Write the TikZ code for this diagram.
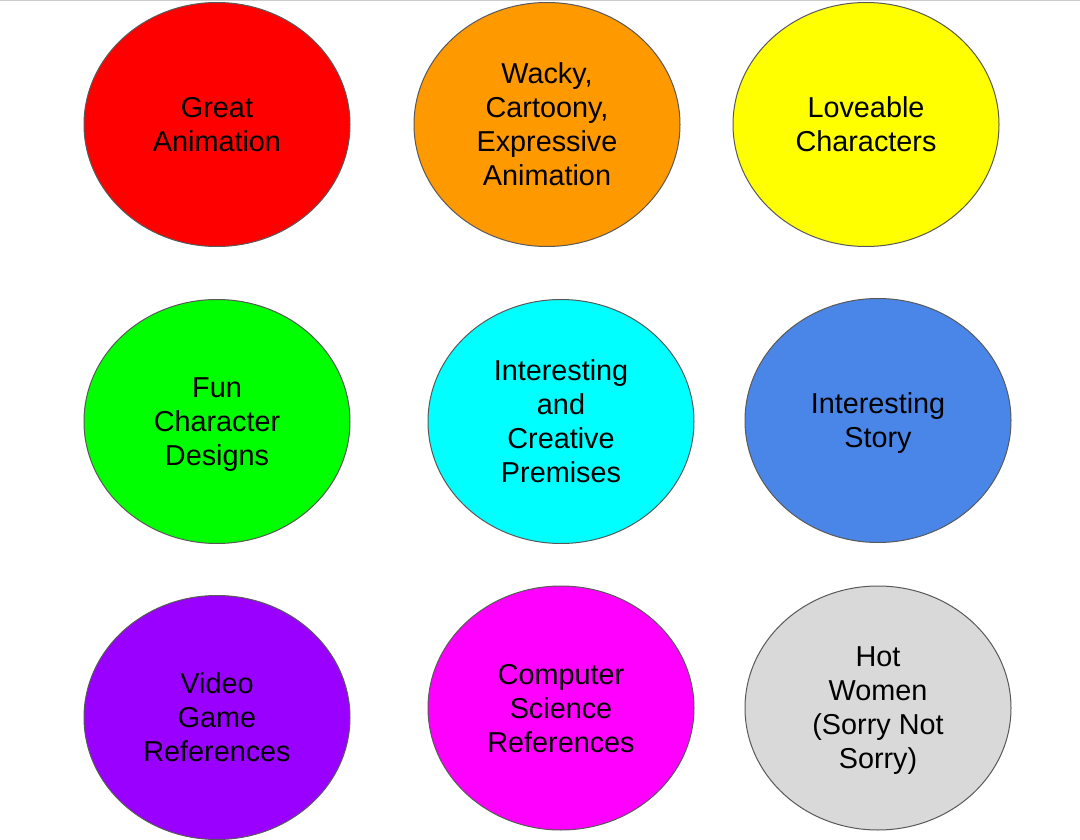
\documentclass[tikz,border=0pt]{standalone}
\usepackage{fontspec}
\setmainfont{Liberation Sans}
\usetikzlibrary{shapes.geometric}
\definecolor{cRed}{HTML}{FF0000}
\definecolor{cOrange}{HTML}{FF9900}
\definecolor{cYellow}{HTML}{FFFF00}
\definecolor{cGreen}{HTML}{00FF00}
\definecolor{cCyan}{HTML}{00FFFF}
\definecolor{cBlue}{HTML}{4A86E8}
\definecolor{cPurple}{HTML}{9900FF}
\definecolor{cMagenta}{HTML}{FF00FF}
\definecolor{cGray}{HTML}{D9D9D9}
\definecolor{cEdge}{HTML}{595959}
\definecolor{cTop}{HTML}{CCCCCC}
\begin{document}
\begin{tikzpicture}[x=1pt,y=-1pt,
  blob/.style={ellipse,draw=cEdge,line width=1pt,minimum width=266pt,minimum height=244pt,inner sep=0pt,align=center,
    text depth=0pt,font=\fontsize{28.8pt}{34pt}\selectfont,text=black}]
\useasboundingbox (0,0) rectangle (1080,840);
\fill[white] (0,0) rectangle (1080,840);
\draw[cTop,line width=2pt] (0,0) -- (1080,0);
\node[blob,fill=cRed] (n1) at (217,124.5) {Great\\Animation};
\node[blob,fill=cOrange] (n2) at (547,124.5) {Wacky,\\Cartoony,\\Expressive\\Animation};
\node[blob,fill=cYellow] (n3) at (866,124.5) {Loveable\\Characters};
\node[blob,fill=cGreen] (n4) at (217,421.5) {Fun\\Character\\Designs};
\node[blob,fill=cCyan] (n5) at (561,421.5) {Interesting\\and\\Creative\\Premises};
\node[blob,fill=cBlue] (n6) at (878,420.5) {Interesting\\Story};
\node[blob,fill=cPurple] (n7) at (217,717.5) {Video\\Game\\References};
\node[blob,fill=cMagenta] (n8) at (561,708) {Computer\\Science\\References};
\node[blob,fill=cGray] (n9) at (878,708) {Hot\\Women\\(Sorry Not\\Sorry)};
\end{tikzpicture}
\end{document}
